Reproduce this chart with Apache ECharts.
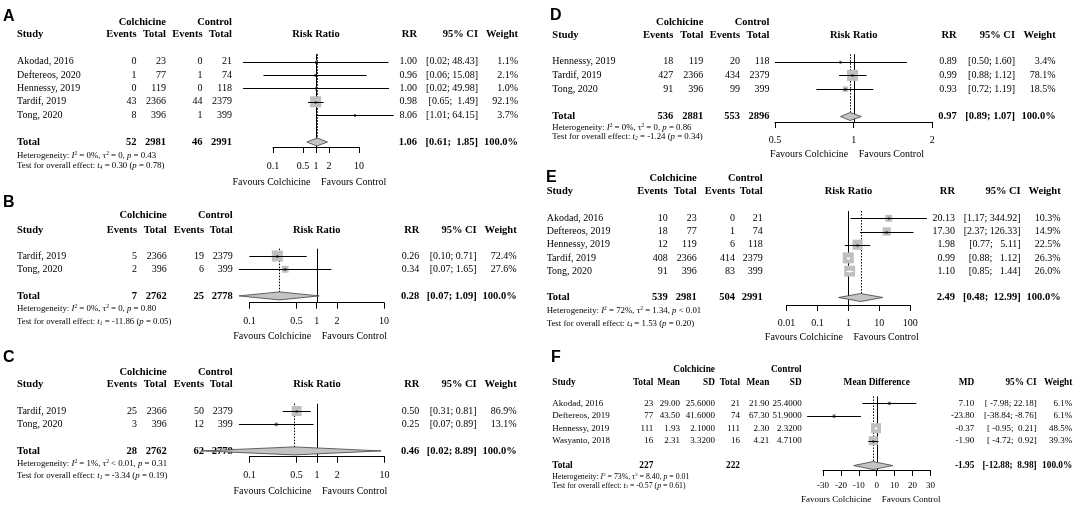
<!DOCTYPE html>
<html><head><meta charset="utf-8">
<script src="https://cdn.jsdelivr.net/npm/echarts@6/dist/echarts.min.js"></script>
<style>html,body{margin:0;padding:0;background:#fff}#c{width:1084px;height:509px}</style>
</head><body><div id="c"></div><script>
// ---------------- DATA ----------------
// Panel A
const studiesA = ["Akodad, 2016","Deftereos, 2020","Hennessy, 2019","Tardif, 2019","Tong, 2020"];
const colEventsA = [0,1,0,43,8];
const colTotalA = [23,77,119,2366,396];
const ctlEventsA = [0,1,0,44,1];
const ctlTotalA = [21,74,118,2379,399];
const rrA = [1.00,0.96,1.00,0.98,8.06];
const lowA = [0.02,0.06,0.02,0.65,1.01];
const highA = [48.43,15.08,49.98,1.49,64.15];
const weightA = [1.1,2.1,1.0,92.1,3.7];
const pooledA = [1.06,0.61,1.85];
const sumA = [52,2981,46,2991];
const ticksA = [0.1,0.5,1,2,10];
const hetA = "Heterogeneity: {i|I}{sup|2} = 0%, τ{sup|2} = 0, {i|p} = 0.43";
const testA = "Test for overall effect: {i|t}{sub|4} = 0.30 ({i|p} = 0.78)";
// Panel B
const studiesB = ["Tardif, 2019","Tong, 2020"];
const colEventsB = [5,2];
const colTotalB = [2366,396];
const ctlEventsB = [19,6];
const ctlTotalB = [2379,399];
const rrB = [0.26,0.34];
const lowB = [0.10,0.07];
const highB = [0.71,1.65];
const weightB = [72.4,27.6];
const pooledB = [0.28,0.07,1.09];
const sumB = [7,2762,25,2778];
const ticksB = [0.1,0.5,1,2,10];
const hetB = "Heterogeneity: {i|I}{sup|2} = 0%, τ{sup|2} = 0, {i|p} = 0.80";
const testB = "Test for overall effect: {i|t}{sub|1} = -11.86 ({i|p} = 0.05)";
// Panel C
const studiesC = ["Tardif, 2019","Tong, 2020"];
const colEventsC = [25,3];
const colTotalC = [2366,396];
const ctlEventsC = [50,12];
const ctlTotalC = [2379,399];
const rrC = [0.50,0.25];
const lowC = [0.31,0.07];
const highC = [0.81,0.89];
const weightC = [86.9,13.1];
const pooledC = [0.46,0.02,8.89];
const sumC = [28,2762,62,2778];
const ticksC = [0.1,0.5,1,2,10];
const hetC = "Heterogeneity: {i|I}{sup|2} = 1%, τ{sup|2} < 0.01, {i|p} = 0.31";
const testC = "Test for overall effect: {i|t}{sub|1} = -3.34 ({i|p} = 0.19)";
// Panel D
const studiesD = ["Hennessy, 2019","Tardif, 2019","Tong, 2020"];
const colEventsD = [18,427,91];
const colTotalD = [119,2366,396];
const ctlEventsD = [20,434,99];
const ctlTotalD = [118,2379,399];
const rrD = [0.89,0.99,0.93];
const lowD = [0.50,0.88,0.72];
const highD = [1.60,1.12,1.19];
const weightD = [3.4,78.1,18.5];
const pooledD = [0.97,0.89,1.07];
const sumD = [536,2881,553,2896];
const ticksD = [0.5,1,2];
const hetD = "Heterogeneity: {i|I}{sup|2} = 0%, τ{sup|2} = 0, {i|p} = 0.86";
const testD = "Test for overall effect: {i|t}{sub|2} = -1.24 ({i|p} = 0.34)";
// Panel E
const studiesE = ["Akodad, 2016","Deftereos, 2019","Hennessy, 2019","Tardif, 2019","Tong, 2020"];
const colEventsE = [10,18,12,408,91];
const colTotalE = [23,77,119,2366,396];
const ctlEventsE = [0,1,6,414,83];
const ctlTotalE = [21,74,118,2379,399];
const rrE = [20.13,17.30,1.98,0.99,1.10];
const lowE = [1.17,2.37,0.77,0.88,0.85];
const highE = [344.92,126.33,5.11,1.12,1.44];
const weightE = [10.3,14.9,22.5,26.3,26.0];
const pooledE = [2.49,0.48,12.99];
const sumE = [539,2981,504,2991];
const ticksE = [0.01,0.1,1,10,100];
const hetE = "Heterogeneity: {i|I}{sup|2} = 72%, τ{sup|2} = 1.34, {i|p} < 0.01";
const testE = "Test for overall effect: {i|t}{sub|4} = 1.53 ({i|p} = 0.20)";
// Panel F
const studiesF = ["Akodad, 2016","Deftereos, 2019","Hennessy, 2019","Wasyanto, 2018"];
const colTotalF = [23,77,111,16];
const colMeanF = [29.00,43.50,1.93,2.31];
const colSDF = [25.6,41.6,2.1,3.32];
const ctlTotalF = [21,74,111,16];
const ctlMeanF = [21.90,67.30,2.30,4.21];
const ctlSDF = [25.4,51.9,2.32,4.71];
const mdF = [7.10,-23.80,-0.37,-1.90];
const lowF = [-7.98,-38.84,-0.95,-4.72];
const highF = [22.18,-8.76,0.21,0.92];
const weightF = [6.1,6.1,48.5,39.3];
const pooledF = [-1.95,-12.88,8.98];
const sumF = [227,222];
const ticksF = [-30,-20,-10,0,10,20,30];
const hetF = "Heterogeneity: {i|I}{sup|2} = 73%, τ{sup|2} = 8.40, {i|p} = 0.01";
const testF = "Test for overall effect: {i|t}{sub|3} = -0.57 ({i|p} = 0.61)";

// ---------------- LAYOUT ----------------
const FONT = '"Liberation Serif","Times New Roman","DejaVu Serif",serif';
const SANS = '"Liberation Sans",Arial,sans-serif';
const LAY = {
  A:{x0:273,x1:359,y0:61.6,s:13.4,axisY:147,h1:22,h2:34.3,het:155.5,test:166,tick:166,fav:182,lx:3,ly:17,study:17,c:[136.5,166,202.5,232],rr:417,ci:478,w:518,fs:10,fsb:10.5,fsn:8.8,maxSz:11},
  B:{x0:249.4,x1:384,y0:256,s:13.3,axisY:302.7,h1:215.7,h2:230,het:309,test:321.7,tick:321.7,fav:336,lx:3,ly:203,study:17,c:[137,166.7,204,232.7],rr:419.3,ci:476.7,w:516.7,fs:10,fsb:10.5,fsn:8.8,maxSz:11},
  C:{x0:249.4,x1:384.5,y0:411,s:13.3,axisY:456.7,h1:372.3,h2:384,het:463.3,test:475.7,tick:475.7,fav:491,lx:3,ly:358,study:17,c:[137,166.7,204,232.7],rr:419.3,ci:476.7,w:516.7,fs:10,fsb:10.5,fsn:8.8,maxSz:10},
  D:{x0:775,x1:932.3,y0:61.7,s:13.7,axisY:122,h1:22.7,h2:35,het:128,test:137,tick:140,fav:154.3,lx:550,ly:16,study:552.3,c:[673.3,703.3,740,769.5],rr:956.7,ci:1015,w:1055.7,fs:10,fsb:10.5,fsn:8.8,maxSz:11},
  E:{x0:786.5,x1:910.3,y0:218.3,s:13.2,axisY:305,h1:178.3,h2:191.7,het:310.7,test:323.3,tick:323.3,fav:337.7,lx:546,ly:178,study:546.7,c:[667.7,696.7,735,762.7],rr:955,ci:1020.7,w:1060.7,fs:10,fsb:10.5,fsn:8.8,maxSz:11},
  F:{x0:823,x1:930.4,y0:403.3,s:12.45,axisY:470,h1:369.3,h2:382.3,het:476.7,test:485.7,tick:486,fav:499.3,lx:551,ly:358,study:552.3,c:[653.3,680,715,740,769.3,801.7],rr:974.3,ci:1036.7,w:1072.3,fs:9,fsb:9.3,fsn:7.8,maxSz:10}
};

// ---------------- HELPERS ----------------
const els = [], grids = [], xAxes = [], yAxes = [], series = [];
function richFor(size){
  const b = {fontSize:size,fontFamily:FONT,fill:'#000',fontWeight:'normal'};
  return {
    i:Object.assign({},b,{fontStyle:'italic'}),
    sup:Object.assign({},b,{fontSize:size*0.62,verticalAlign:'top'}),
    sub:Object.assign({},b,{fontSize:size*0.62,fontStyle:'italic',verticalAlign:'bottom'})
  };
}
function txt(x,y,s,o){
  o = o || {};
  const size = o.size || 10;
  const st = {text:String(s),x:0,y:0,fill:'#000',fontSize:size,fontFamily:o.family||FONT,
    fontWeight:o.bold?'bold':'normal',align:o.align||'left',verticalAlign:'middle'};
  if (o.rich) st.rich = richFor(size);
  els.push({type:'text',x:x,y:y,silent:true,z:0,style:st});
}
function ciStrings(lows,highs){
  const ls = lows.map(v=>v.toFixed(2)), hs = highs.map(v=>v.toFixed(2));
  const wl = Math.max(...ls.map(s=>s.length)), wh = Math.max(...hs.map(s=>s.length));
  return ls.map((l,i)=>'['+' '.repeat(wl-l.length)+l+'; '+' '.repeat(wh-hs[i].length)+hs[i]+']');
}
function fmtTick(v){ return String(Math.round(v*1000)/1000); }
function xPix(lay,v,isLog,t){
  const a = t[0], b = t[t.length-1];
  const f = isLog ? (Math.log10(v)-Math.log10(a))/(Math.log10(b)-Math.log10(a)) : (v-a)/(b-a);
  return lay.x0 + f*(lay.x1-lay.x0);
}

function studyRender(maxW,maxSz){
  return function(p,api){
    const r = api.value(4), w = api.value(3);
    const c = api.coord([api.value(0),r]), lo = api.coord([api.value(1),r]), hi = api.coord([api.value(2),r]);
    const sz = Math.max(2, maxSz*Math.sqrt(w/maxW));
    const inside = lo[0] >= c[0]-sz/2 && hi[0] <= c[0]+sz/2;
    const col = inside ? '#ffffff' : '#000000';
    const y = Math.round(c[1])+0.5;
    return {type:'group',children:[
      {type:'rect',shape:{x:c[0]-sz/2,y:c[1]-sz/2,width:sz,height:sz},style:{fill:'#bfbfbf'}},
      {type:'line',shape:{x1:lo[0],y1:y,x2:hi[0],y2:y},style:{stroke:col,lineWidth:1}},
      {type:'rect',shape:{x:c[0]-1,y:y-1,width:2,height:2},style:{fill:col}}
    ]};
  };
}
function diamondRender(p,api){
  const r = api.value(3);
  const c = api.coord([api.value(0),r]), lo = api.coord([api.value(1),r]), hi = api.coord([api.value(2),r]);
  const h = 4;
  return {type:'polygon',shape:{points:[[lo[0],c[1]],[c[0],c[1]-h],[hi[0],c[1]],[c[0],c[1]+h]]},
    style:{fill:'#c4c4c4',stroke:'#404040',lineWidth:0.8}};
}
function refRender(p,api){
  const top = api.value(3), tot = api.value(4), bot = api.value(2);
  const n1 = api.coord([api.value(0),top]), n2 = api.coord([api.value(0),bot]);
  const e1 = api.coord([api.value(1),top]), e2 = api.coord([api.value(1),tot]);
  const xn = Math.round(n1[0])+0.5, xe = Math.round(e1[0])+0.5;
  return {type:'group',children:[
    {type:'line',shape:{x1:xe,y1:e1[1],x2:xe,y2:e2[1]-4},style:{stroke:'#000',lineWidth:1,lineDash:[1.5,1.5]}},
    {type:'line',shape:{x1:xn,y1:n1[1],x2:xn,y2:n2[1]},style:{stroke:'#000',lineWidth:1}}
  ]};
}

function addPlot(idx,lay,d,isLog){
  const yMax = (lay.axisY-lay.y0)/lay.s;
  const n = d.est.length, totRow = n+1;
  const t = d.ticks;
  grids.push({left:lay.x0,top:lay.y0-lay.s,width:lay.x1-lay.x0,height:lay.axisY-(lay.y0-lay.s),outerBoundsMode:'none',containLabel:false});
  const fsT = lay.fs;
  xAxes.push({gridIndex:idx,type:isLog?'log':'value',logBase:10,min:t[0],max:t[t.length-1],
    axisLine:{show:true,onZero:false,lineStyle:{color:'#000',width:1}},
    axisTick:{show:true,inside:false,length:6,customValues:t,lineStyle:{color:'#000',width:1}},
    axisLabel:{show:true,customValues:t,margin:lay.tick-lay.axisY-fsT/2,fontSize:fsT,fontFamily:FONT,color:'#000',formatter:fmtTick,hideOverlap:false},
    splitLine:{show:false},minorTick:{show:false}});
  yAxes.push({gridIndex:idx,type:'value',inverse:true,min:-1,max:yMax,show:false,splitLine:{show:false}});
  const nullV = isLog ? 1 : 0;
  series.push({type:'custom',coordinateSystem:'cartesian2d',xAxisIndex:idx,yAxisIndex:idx,silent:true,
    encode:{x:[0,1],y:[2,3,4]},data:[[nullV,d.pooled[0],yMax,-0.55,totRow]],renderItem:refRender,z:2});
  series.push({type:'custom',coordinateSystem:'cartesian2d',xAxisIndex:idx,yAxisIndex:idx,silent:true,
    encode:{x:[0,1,2],y:4},data:d.est.map((v,i)=>[v,d.low[i],d.high[i],d.weight[i],i]),
    renderItem:studyRender(Math.max(...d.weight),lay.maxSz),z:3});
  series.push({type:'custom',coordinateSystem:'cartesian2d',xAxisIndex:idx,yAxisIndex:idx,silent:true,
    encode:{x:[0,1,2],y:3},data:[[d.pooled[0],d.pooled[1],d.pooled[2],totRow]],renderItem:diamondRender,z:4});

  // right table
  const rowY = i => lay.y0 + i*lay.s;
  const cis = ciStrings(d.low.concat([d.pooled[1]]), d.high.concat([d.pooled[2]]));
  txt(lay.rr,lay.h2,d.eff,{bold:true,size:lay.fsb,align:'right'});
  txt(lay.ci,lay.h2,'95% CI',{bold:true,size:lay.fsb,align:'right'});
  txt(lay.w,lay.h2,'Weight',{bold:true,size:lay.fsb,align:'right'});
  const xNull = xPix(lay,nullV,isLog,t);
  txt(xNull,lay.h2,d.title,{bold:true,size:lay.fsb,align:'center'});
  for (let i=0;i<n;i++){
    txt(lay.rr,rowY(i),d.est[i].toFixed(2),{size:lay.fs,align:'right'});
    txt(lay.ci,rowY(i),cis[i],{size:lay.fs,align:'right'});
    txt(lay.w,rowY(i),d.weight[i].toFixed(1)+'%',{size:lay.fs,align:'right'});
  }
  txt(lay.rr,rowY(totRow),d.pooled[0].toFixed(2),{bold:true,size:lay.fsb,align:'right'});
  txt(lay.ci,rowY(totRow),cis[n],{bold:true,size:lay.fsb,align:'right'});
  txt(lay.w,rowY(totRow),'100.0%',{bold:true,size:lay.fsb,align:'right'});
  // favours
  txt(xNull-5.5,lay.fav,'Favours Colchicine',{size:lay.fs,align:'right'});
  txt(xNull+5,lay.fav,'Favours Control',{size:lay.fs,align:'left'});
  // footer + letter
  txt(lay.study,lay.het,d.het,{size:lay.fsn,rich:true});
  txt(lay.study,lay.test,d.test,{size:lay.fsn,rich:true});
  txt(lay.lx,lay.ly,d.letter,{size:16,bold:true,family:SANS});
  // left study names + total label
  txt(lay.study,lay.h2,'Study',{bold:true,size:lay.fsb});
  d.studies.forEach((s,i)=>txt(lay.study,rowY(i),s,{size:lay.fs}));
  txt(lay.study,rowY(totRow),'Total',{bold:true,size:lay.fsb});
  return rowY;
}

function rrPanel(idx,key,letter,studies,ce,ct,ke,kt,rr,lo,hi,w,pooled,sum,ticks,het,test){
  const lay = LAY[key];
  const rowY = addPlot(idx,lay,{studies:studies,est:rr,low:lo,high:hi,weight:w,pooled:pooled,ticks:ticks,het:het,test:test,letter:letter,title:'Risk Ratio',eff:'RR'},true);
  const c = lay.c, n = studies.length;
  txt(c[1],lay.h1,'Colchicine',{bold:true,size:lay.fsb,align:'right'});
  txt(c[3],lay.h1,'Control',{bold:true,size:lay.fsb,align:'right'});
  ['Events','Total','Events','Total'].forEach((h,j)=>txt(c[j],lay.h2,h,{bold:true,size:lay.fsb,align:'right'}));
  for (let i=0;i<n;i++){
    [ce[i],ct[i],ke[i],kt[i]].forEach((v,j)=>txt(c[j],rowY(i),v,{size:lay.fs,align:'right'}));
  }
  sum.forEach((v,j)=>txt(c[j],rowY(n+1),v,{bold:true,size:lay.fsb,align:'right'}));
}

rrPanel(0,'A','A',studiesA,colEventsA,colTotalA,ctlEventsA,ctlTotalA,rrA,lowA,highA,weightA,pooledA,sumA,ticksA,hetA,testA);
rrPanel(1,'B','B',studiesB,colEventsB,colTotalB,ctlEventsB,ctlTotalB,rrB,lowB,highB,weightB,pooledB,sumB,ticksB,hetB,testB);
rrPanel(2,'C','C',studiesC,colEventsC,colTotalC,ctlEventsC,ctlTotalC,rrC,lowC,highC,weightC,pooledC,sumC,ticksC,hetC,testC);
rrPanel(3,'D','D',studiesD,colEventsD,colTotalD,ctlEventsD,ctlTotalD,rrD,lowD,highD,weightD,pooledD,sumD,ticksD,hetD,testD);
rrPanel(4,'E','E',studiesE,colEventsE,colTotalE,ctlEventsE,ctlTotalE,rrE,lowE,highE,weightE,pooledE,sumE,ticksE,hetE,testE);

// Panel F (mean difference)
(function(){
  const lay = LAY.F;
  const rowY = addPlot(5,lay,{studies:studiesF,est:mdF,low:lowF,high:highF,weight:weightF,pooled:pooledF,ticks:ticksF,het:hetF,test:testF,letter:'F',title:'Mean Difference',eff:'MD'},false);
  const c = lay.c, n = studiesF.length;
  txt(c[2],lay.h1,'Colchicine',{bold:true,size:lay.fsb,align:'right'});
  txt(c[5],lay.h1,'Control',{bold:true,size:lay.fsb,align:'right'});
  ['Total','Mean','SD','Total','Mean','SD'].forEach((h,j)=>txt(c[j],lay.h2,h,{bold:true,size:lay.fsb,align:'right'}));
  for (let i=0;i<n;i++){
    [colTotalF[i],colMeanF[i].toFixed(2),colSDF[i].toFixed(4),ctlTotalF[i],ctlMeanF[i].toFixed(2),ctlSDF[i].toFixed(4)]
      .forEach((v,j)=>txt(c[j],rowY(i),v,{size:lay.fs,align:'right'}));
  }
  txt(c[0],rowY(n+1),sumF[0],{bold:true,size:lay.fsb,align:'right'});
  txt(c[3],rowY(n+1),sumF[1],{bold:true,size:lay.fsb,align:'right'});
})();

const chart = echarts.init(document.getElementById('c'),null,{renderer:'canvas',width:1084,height:509});
chart.setOption({
  animation:false,
  backgroundColor:'#ffffff',
  grid:grids, xAxis:xAxes, yAxis:yAxes, series:series,
  graphic:{elements:els}
});
</script></body></html>
